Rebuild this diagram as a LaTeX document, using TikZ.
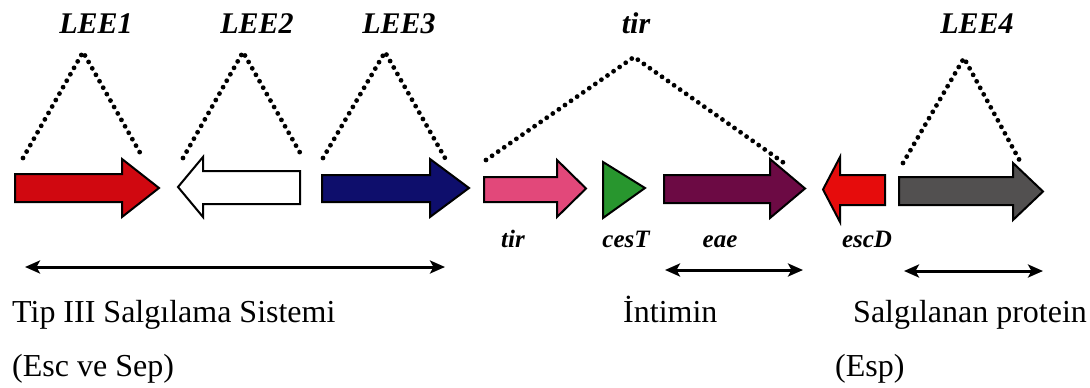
\documentclass[tikz,border=0pt]{standalone}
\usepackage{fontspec}
\IfFontExistsTF{LiberationSerif-Regular.ttf}{%
  \setmainfont{LiberationSerif}[Extension=.ttf, UprightFont=*-Regular,
    BoldFont=*-Bold, ItalicFont=*-Italic, BoldItalicFont=*-BoldItalic]}{%
  \setmainfont{Liberation Serif}}
\usetikzlibrary{arrows.meta}

\definecolor{leeRed}{RGB}{208,8,16}
\definecolor{leeBlue}{RGB}{14,14,108}
\definecolor{tirPink}{RGB}{226,72,122}
\definecolor{cesGreen}{RGB}{40,150,46}
\definecolor{eaePurple}{RGB}{108,10,68}
\definecolor{escRed}{RGB}{230,12,12}
\definecolor{leeGray}{RGB}{82,80,80}

% gene arrow pointing right: #1 tail x, #2 head base x, #3 tip x,
% #4/#5 body top/bottom, #6/#7 head top/bottom, #8 fill, #9 name
\newcommand\GeneRight[9]{%
  \draw[genebox, fill=#8] (#1,#4) -- (#2,#4) -- (#2,#6) -- (#3,{(#6+#7)/2})
    coordinate (#9) -- (#2,#7) -- (#2,#5) -- (#1,#5) -- cycle;}
% gene arrow pointing left: #1 tip x, #2 head base x, #3 tail x
\newcommand\GeneLeft[9]{%
  \draw[genebox, fill=#8] (#3,#4) -- (#2,#4) -- (#2,#6) -- (#1,{(#6+#7)/2})
    coordinate (#9) -- (#2,#7) -- (#2,#5) -- (#3,#5) -- cycle;}

\tikzset{
  genebox/.style={draw=black, line width=2pt, line join=miter},
  dots/.style={line width=4.8pt, line cap=round, dash pattern=on 0pt off 7.4pt},
  span/.style={line width=3pt, {Stealth[length=15pt,width=13pt,inset=3.5pt]}-{Stealth[length=15pt,width=13pt,inset=3.5pt]}},
  region/.style={font=\bfseries\itshape\fontsize{30}{30}\selectfont, inner sep=0pt, anchor=base},
  gene/.style={font=\bfseries\itshape\fontsize{25}{25}\selectfont, inner sep=0pt, anchor=base},
  caption/.style={font=\fontsize{32}{32}\selectfont, inner sep=0pt, anchor=base west},
}

\begin{document}
\begin{tikzpicture}[x=1pt, y=-1pt]
\useasboundingbox (0,0) rectangle (1090,388);

% operon arrows
\GeneRight{15}{122}{159}{174}{202}{159}{217}{leeRed}{lee1}
\GeneLeft{178}{203}{300}{171}{204}{157}{217}{white}{lee2}
\GeneRight{322}{430}{469}{175}{202}{159}{217}{leeBlue}{lee3}
\GeneRight{484}{557}{586}{177}{202}{160}{217}{tirPink}{tirg}
\draw[genebox, fill=cesGreen] (603,162) -- (645,188) coordinate (cest) -- (603,218) -- cycle;
\GeneRight{664}{770}{805}{175}{203}{159}{218}{eaePurple}{eaeg}
\GeneLeft{823}{840}{885}{175}{205}{157}{222}{escRed}{escd}
\GeneRight{899}{1013}{1043}{177}{205}{163}{220}{leeGray}{lee4}

% dotted brackets over each operon
\coordinate (a1) at (23,158);  \coordinate (p1) at (83,52);  \coordinate (b1) at (143,158);
\coordinate (a2) at (183,158); \coordinate (p2) at (243,52); \coordinate (b2) at (303,158);
\coordinate (a3) at (323,158); \coordinate (p3) at (385,52); \coordinate (b3) at (445,158);
\coordinate (a4) at (486,160); \coordinate (p4) at (634,57); \coordinate (b4) at (784,163);
\coordinate (a5) at (903,163); \coordinate (p5) at (964,58); \coordinate (b5) at (1021,163);
\foreach \i in {1,...,5}{\draw[dots] (a\i) -- (p\i) -- (b\i);}

% operon names
\node[region] (n1) at (96,33) {LEE1};
\node[region] (n2) at (257,33) {LEE2};
\node[region] (n3) at (399,33) {LEE3};
\node[region] (n4) at (636,33) {tir};
\node[region] (n5) at (977,33) {LEE4};

% gene names
\node[gene] (g1) at (513,247) {tir};
\node[gene] (g2) at (626,247) {cesT};
\node[gene] (g3) at (720,247) {eae};
\node[gene] (g4) at (867,247) {escD};

% spans of the encoded products
\coordinate (s1a) at (25,267);  \coordinate (s1b) at (445,267);
\coordinate (s2a) at (665,270); \coordinate (s2b) at (803,270);
\coordinate (s3a) at (904,271); \coordinate (s3b) at (1043,271);
\draw[span] (s1a) -- (s1b);
\draw[span] (s2a) -- (s2b);
\draw[span] (s3a) -- (s3b);

% captions
\node[caption] (c1) at (12,322) {Tip III Salgılama Sistemi};
\node[caption] (c2) at (12,376) {(Esc ve Sep)};
\node[caption] (c3) at (623,322) {İntimin};
\node[caption] (c4) at (853,322) {Salgılanan protein};
\node[caption] (c5) at (835,376) {(Esp)};
\end{tikzpicture}
\end{document}
